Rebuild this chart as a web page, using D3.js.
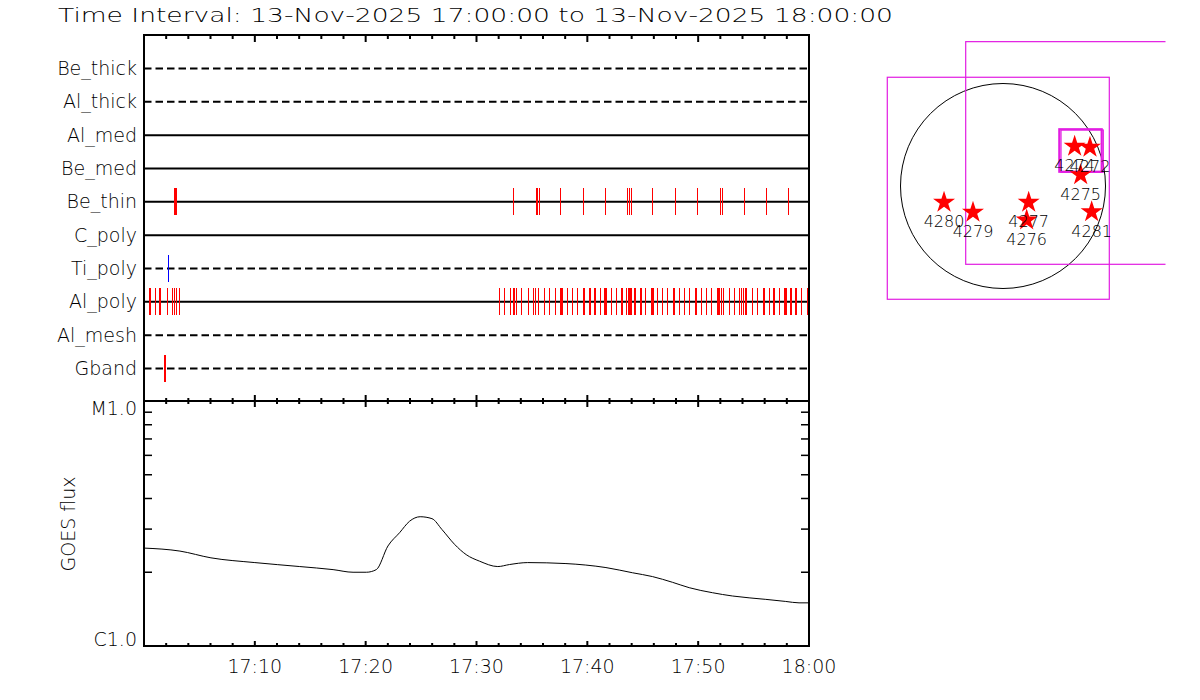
<!DOCTYPE html>
<html><head><meta charset="utf-8">
<script src="https://cdn.jsdelivr.net/npm/d3@7"></script>
<style>
body{margin:0;background:#fff}
svg{display:block}
text{font-family:"DejaVu Sans",sans-serif;font-weight:200;fill:#000}
</style>
</head><body>
<svg id="chart" width="1200" height="700"></svg>
<script>
// ---------------- DATA ----------------
const titleText = "Time Interval: 13-Nov-2025 17:00:00 to 13-Nov-2025 18:00:00";
const channels = ["Be_thick","Al_thick","Al_med","Be_med","Be_thin","C_poly","Ti_poly","Al_poly","Al_mesh","Gband"];
const dashedChannels = ["Be_thick","Al_thick","Ti_poly","Al_mesh","Gband"];
// event times, minutes after 17:00
const beThinEvents = [2.75,2.84,2.91,33.36,35.41,35.52,35.68,37.59,39.67,41.65,43.63,43.78,43.96,45.88,47.95,49.94,51.98,52.16,54.17,56.15,58.14];
const tiPolyEvents = [2.19];
const alPolyEvents = [0.03,0.54,1.02,1.44,2.14,2.59,2.73,2.95,3.18,
  32.10,32.55,33.09,33.31,33.45,33.63,34.08,34.66,35.11,35.34,35.61,36.15,36.60,37.14,37.59,37.72,
  38.23,38.68,39.13,39.64,39.73,40.24,40.69,41.20,41.59,41.68,42.19,42.64,43.13,43.54,43.69,43.85,43.94,
  44.30,44.84,45.25,45.79,45.92,46.33,46.78,47.23,47.77,47.90,48.32,48.77,49.22,49.76,49.88,50.30,50.75,
  51.20,51.71,51.83,51.95,52.10,52.28,52.82,53.27,53.76,53.90,54.12,54.32,54.89,55.34,55.86,56.01,56.40,
  56.85,57.32,57.84,57.99,58.38,58.83,59.31,59.85];
const gbandEvents = [1.90,1.97];
// GOES flux (W/m^2), time in minutes after 17:00
const goesTime = [0,3.24,6.04,10,14.05,17.06,18.86,20.06,20.96,22.01,23.06,23.96,24.92,25.98,26.88,28.02,29.07,30.27,31.92,32.97,34.62,38.07,39.86,41.68,44.08,45.88,47.68,49.19,51.29,53.09,56.1,57.9,59.1,60];
const goesFlux = [2.51e-6,2.44e-6,2.29e-6,2.19e-6,2.11e-6,2.05e-6,2.00e-6,2.00e-6,2.05e-6,2.56e-6,2.90e-6,3.23e-6,3.37e-6,3.31e-6,2.99e-6,2.60e-6,2.36e-6,2.22e-6,2.11e-6,2.15e-6,2.19e-6,2.17e-6,2.14e-6,2.09e-6,1.99e-6,1.92e-6,1.82e-6,1.73e-6,1.65e-6,1.60e-6,1.55e-6,1.52e-6,1.50e-6,1.50e-6];
const timeTickValues = [10,20,30,40,50,60];
const timeTickLabels = ["17:10","17:20","17:30","17:40","17:50","18:00"];
const fluxTickLabels = ["C1.0","M1.0"];
const fluxTickValues = [1e-6,1e-5];
const goesLabel = "GOES flux";
// Map: active regions (heliocentric arcsec)
const arNumbers = ["4274","4272","4275","4280","4279","4277","4276","4281"];
const arX = [678,823,735,-558,-284,243,224,839];
const arY = [375,366,106,-155,-249,-155,-322,-244];
const solarRadius = 970;
// FOV boxes [xmin,xmax,ymin,ymax] arcsec
const fovBoxes = [[-1095,1006,-1072,1029],[-353,1748,-741,1366]];
const smallBoxes = [[533,934,135,537],[549,949,130,530]];

// ---------------- LAYOUT ----------------
const svg = d3.select("#chart");
const X0 = 144, X1 = 809, Ytop = 35, Ymid = 401, Ybot = 646;
const x = d3.scaleLinear().domain([0,60]).range([X0,X1]);
const yRow = d3.scalePoint().domain(channels).range([68.5,368.5]);
const yFlux = d3.scaleLog().domain([1e-6,1e-5]).range([Ybot,Ymid]);

// title
svg.append("text").attr("x",58).attr("y",22).attr("font-size",20)
  .attr("textLength",835).attr("lengthAdjust","spacingAndGlyphs").text(titleText);

// channel lines
const rows = svg.append("g");
channels.forEach(c=>{
  rows.append("line").attr("x1",X0).attr("x2",X1).attr("y1",yRow(c)).attr("y2",yRow(c))
    .attr("stroke","#000").attr("stroke-width",2)
    .attr("stroke-dasharray", dashedChannels.includes(c) ? "7.5,4" : null);
  rows.append("text").attr("x",137).attr("y",yRow(c)+6.5).attr("font-size",19)
    .attr("text-anchor","end").text(c);
});

// events
function drawEvents(list, ch, color){
  svg.append("g").selectAll("line").data(list).join("line")
    .attr("x1",d=>x(d)).attr("x2",d=>x(d))
    .attr("y1",yRow(ch)-13.5).attr("y2",yRow(ch)+13.5)
    .attr("stroke",color).attr("stroke-width",1.2).attr("shape-rendering","crispEdges");
}
drawEvents(beThinEvents,"Be_thin","#ff0000");
drawEvents(tiPolyEvents,"Ti_poly","#0000ff");
drawEvents(alPolyEvents,"Al_poly","#ff0000");
drawEvents(gbandEvents,"Gband","#ff0000");

// GOES curve
const line = d3.line().x((d,i)=>x(goesTime[i])).y(d=>yFlux(d)).curve(d3.curveMonotoneX);
svg.append("path").attr("d",line(goesFlux)).attr("fill","none").attr("stroke","#000").attr("stroke-width",1);

// frames
const fr = svg.append("g").attr("stroke","#000").attr("stroke-width",2).attr("fill","none");
fr.append("rect").attr("x",X0).attr("y",Ytop).attr("width",X1-X0).attr("height",Ymid-Ytop);
fr.append("rect").attr("x",X0).attr("y",Ymid).attr("width",X1-X0).attr("height",Ybot-Ymid);

// time ticks
const allTicks = d3.range(0,61,2);
const tk = svg.append("g").attr("stroke","#000").attr("stroke-width",2);
allTicks.forEach(t=>{
  if (t===0||t===60) return;
  const major = t%10===0;
  const L = major?6:3;
  tk.append("line").attr("x1",x(t)).attr("x2",x(t)).attr("y1",Ytop).attr("y2",Ytop+L+1);
  tk.append("line").attr("x1",x(t)).attr("x2",x(t)).attr("y1",Ymid-L).attr("y2",Ymid+L);
  tk.append("line").attr("x1",x(t)).attr("x2",x(t)).attr("y1",Ybot).attr("y2",Ybot-(major?5:3));
});
timeTickValues.forEach((t,i)=>{
  svg.append("text").attr("x",x(t)).attr("y",673).attr("font-size",19)
    .attr("text-anchor","middle").text(timeTickLabels[i]);
});

// flux ticks
const ft = svg.append("g").attr("stroke","#000").attr("stroke-width",1.5);
yFlux.ticks().forEach(v=>{
  if (v<=1e-6*1.001 || v>=1e-5*0.999) return;
  ft.append("line").attr("x1",X0).attr("x2",X0+8).attr("y1",yFlux(v)).attr("y2",yFlux(v));
  ft.append("line").attr("x1",X1).attr("x2",X1-8).attr("y1",yFlux(v)).attr("y2",yFlux(v));
});
svg.append("text").attr("x",137).attr("y",yFlux(fluxTickValues[0])).attr("font-size",19)
  .attr("text-anchor","end").text(fluxTickLabels[0]);
svg.append("text").attr("x",137).attr("y",yFlux(fluxTickValues[1])+14).attr("font-size",19)
  .attr("text-anchor","end").text(fluxTickLabels[1]);
svg.append("text").attr("transform","translate(75,524) rotate(-90)").attr("font-size",19)
  .attr("text-anchor","middle").text(goesLabel);

// ---------------- MAP ----------------
const cx = 1003, cy = 186, R = 102.5;
const mx = d3.scaleLinear().domain([-solarRadius,solarRadius]).range([cx-R,cx+R]);
const my = d3.scaleLinear().domain([-solarRadius,solarRadius]).range([cy+R,cy-R]);
svg.append("clipPath").attr("id","mapclip").append("rect").attr("x",870).attr("y",30).attr("width",295.5).attr("height",300);
const map = svg.append("g").attr("clip-path","url(#mapclip)");
map.append("circle").attr("cx",mx(0)).attr("cy",my(0)).attr("r",mx(solarRadius)-mx(0))
  .attr("fill","none").attr("stroke","#000").attr("stroke-width",1);
fovBoxes.forEach(b=>{
  map.append("rect").attr("x",mx(b[0])).attr("y",my(b[3])).attr("width",mx(b[1])-mx(b[0])).attr("height",my(b[2])-my(b[3]))
    .attr("fill","none").attr("stroke","#e21ce2").attr("stroke-width",1.2);
});
smallBoxes.forEach((b,i)=>{
  map.append("rect").attr("x",mx(b[0])).attr("y",my(b[3])).attr("width",mx(b[1])-mx(b[0])).attr("height",my(b[2])-my(b[3]))
    .attr("fill","none").attr("stroke","#e21ce2").attr("stroke-width",i===0?2.2:1.2);
});
const star = d3.symbol(d3.symbolStar,150);
arNumbers.forEach((n,i)=>{
  map.append("path").attr("d",star()).attr("transform",`translate(${mx(arX[i])},${my(arY[i])})`).attr("fill","#ff0000");
});
arNumbers.forEach((n,i)=>{
  map.append("text").attr("x",mx(arX[i])).attr("y",my(arY[i])+25).attr("font-size",16)
    .attr("text-anchor","middle").text(n);
});
</script>
</body></html>
